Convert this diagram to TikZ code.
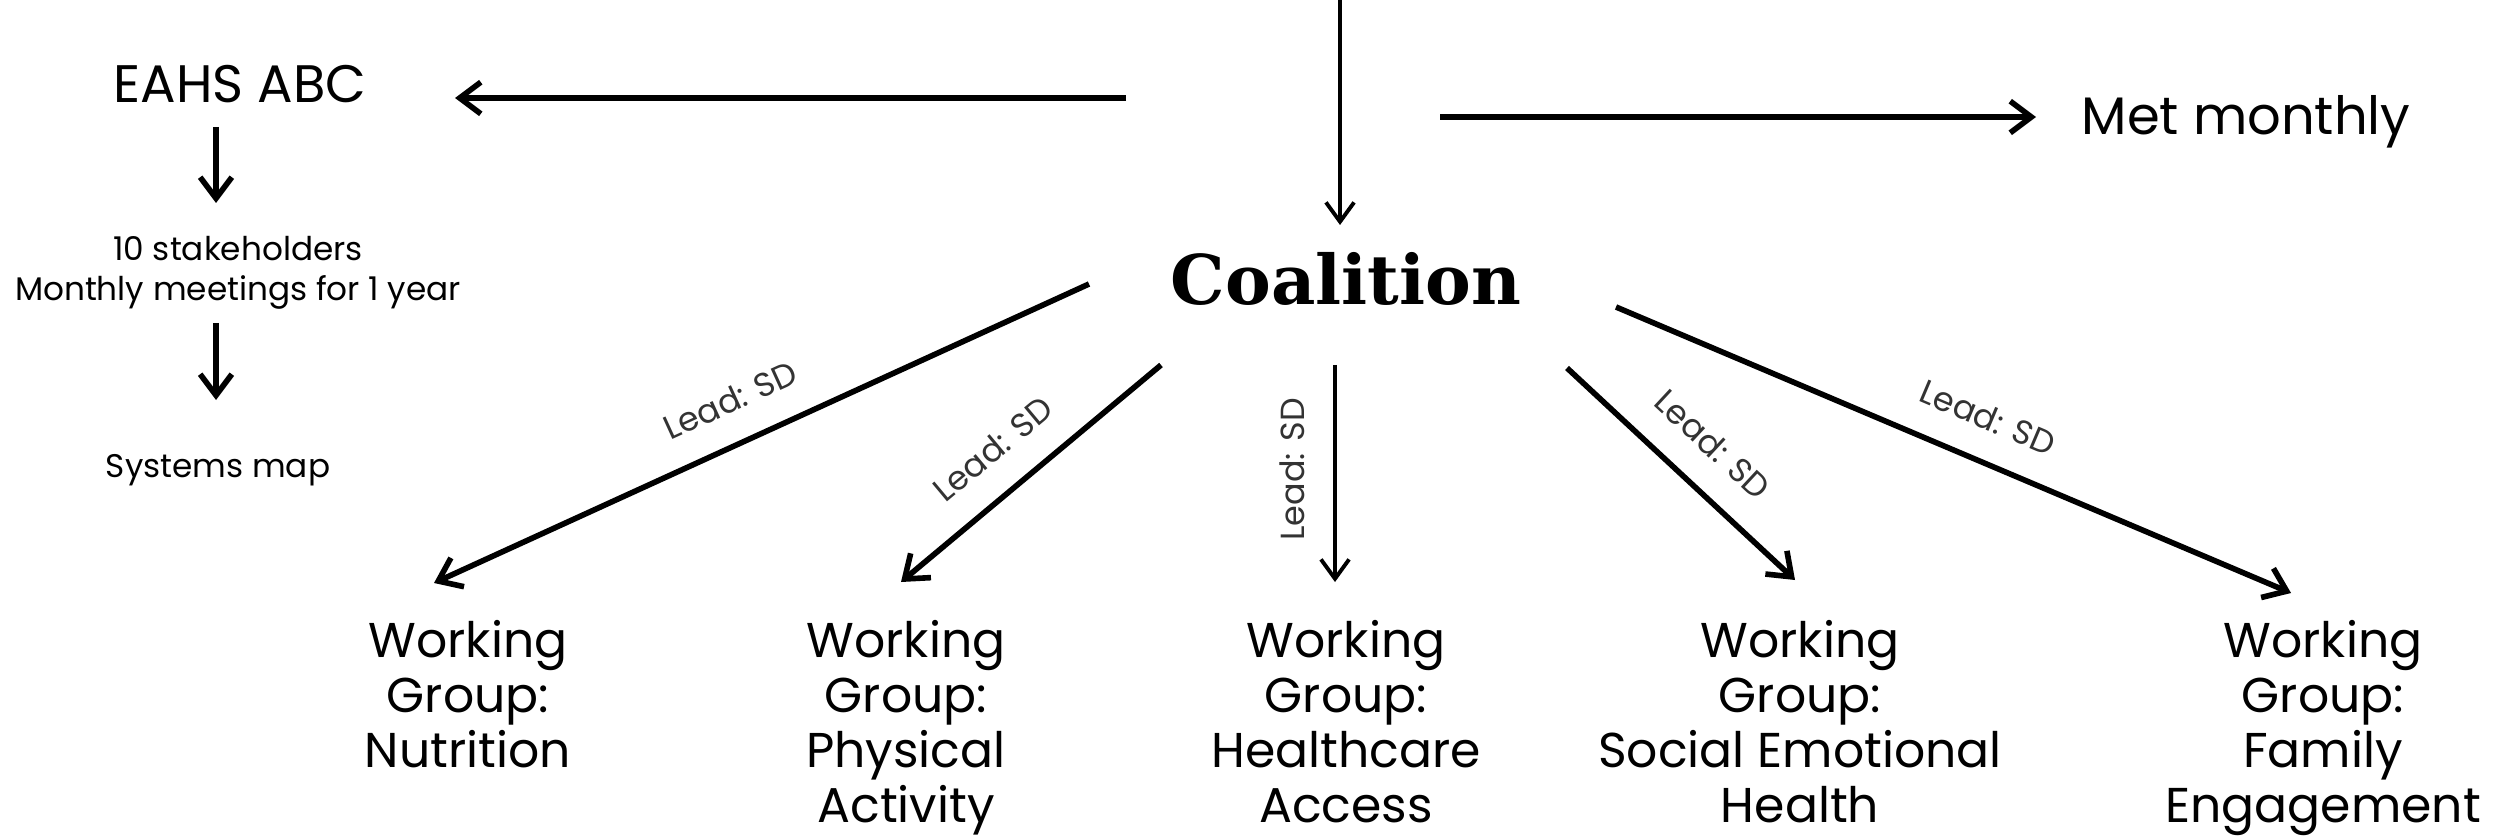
\documentclass[tikz,border=0pt]{standalone}
\usepackage{fontspec}
\setmainfont{Poppins}
\newfontfamily\slab{DejaVu Serif}
\usetikzlibrary{arrows.meta}
\begin{document}
\begin{tikzpicture}[x=0.01cm,y=-0.01cm,
  arr/.style={line width=1.6pt,-{Straight Barb[length=6pt,width=9pt]}},
  arrthin/.style={line width=1.1pt,-{Straight Barb[length=5.5pt,width=8pt]}},
  lbl/.style={font=\fontsize{9.5}{11}\selectfont,text=black!80,inner sep=0pt,sloped,above=8pt},
  lblv/.style={font=\fontsize{9.5}{11}\selectfont,text=black!80,inner sep=0pt,rotate=90,above=8pt},
  small/.style={font=\fontsize{9.3}{11.4}\selectfont,inner sep=0pt},
  big/.style={font=\fontsize{15}{18}\selectfont,inner sep=0pt,anchor=base},
  wg/.style={font=\fontsize{13.9}{15.6}\selectfont,align=center,anchor=north,inner sep=0pt}]
\fill[white] (0,0) rectangle (2504,837);
\useasboundingbox (0,0) rectangle (2504,837);
% nodes
\node[big] (eahs) at (240,103) {EAHS ABC};
\node[small,align=center,anchor=north] (stake) at (238,236) {10 stakeholders\\Monthly meetings for 1 year};
\node[small,anchor=base] (sys) at (218,477) {Systems map};
\node[font=\slab\bfseries\fontsize{19.5}{22}\selectfont,anchor=base,inner sep=0pt] (coal) at (1346,305) {Coalition};
\node[big] (met) at (2246,135) {Met monthly};
\node[wg] (wg1) at (468,620) {Working\\Group:\\Nutrition};
\node[wg] (wg2) at (906,620) {Working\\Group:\\Physical\\Activity};
\node[wg] (wg3) at (1346,620) {Working\\Group:\\Healthcare\\Access};
\node[wg] (wg4) at (1800,620) {Working\\Group:\\Social Emotional\\Health};
\node[wg] (wg5) at (2323,620) {Working\\Group:\\Family\\Engagement};
% connector end points
\coordinate (top) at (1340,0);
\coordinate (coalT) at (1340,225);
\coordinate (lS) at (1126,98);
\coordinate (lE) at (455,98);
\coordinate (rS) at (1440,117);
\coordinate (rE) at (2036,117);
\coordinate (d1S) at (216,127);
\coordinate (d1E) at (216,203);
\coordinate (d2S) at (216,323);
\coordinate (d2E) at (216,400);
\coordinate (n1S) at (1089,284);
\coordinate (n1E) at (434,583);
\coordinate (n2S) at (1161,365);
\coordinate (n2E) at (901,582);
\coordinate (n3S) at (1335,365);
\coordinate (n3E) at (1335,582);
\coordinate (n4S) at (1567,368);
\coordinate (n4E) at (1795,580);
\coordinate (n5S) at (1616,307);
\coordinate (n5E) at (2291,593);
% connectors
\draw[arrthin] (top) -- (coalT);
\draw[arr] (lS) -- (lE);
\draw[arr] (rS) -- (rE);
\draw[arr] (d1S) -- (d1E);
\draw[arr] (d2S) -- (d2E);
\draw[arr] (n1S) -- node[lbl,pos=0.52] {Lead: SD} (n1E);
\draw[arr] (n2S) -- node[lbl,pos=0.54] {Lead: SD} (n2E);
\draw[arrthin] (n3S) -- node[lblv,pos=0.48] {Lead: SD} (n3E);
\draw[arr] (n4S) -- node[lbl,pos=0.51] {Lead: SD} (n4E);
\draw[arr] (n5S) -- node[lbl,pos=0.526] {Lead: SD} (n5E);
\end{tikzpicture}
\end{document}
